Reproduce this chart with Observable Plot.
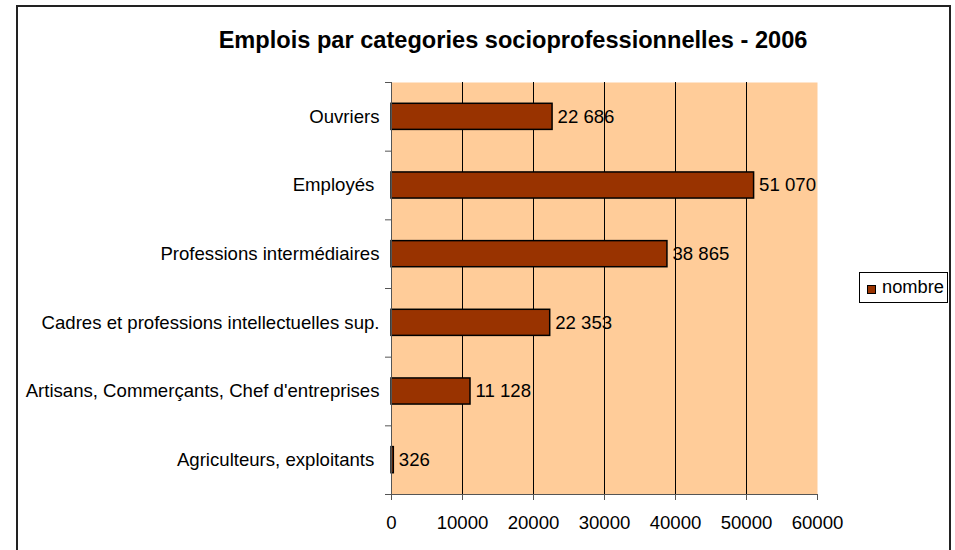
<!DOCTYPE html>
<html><head><meta charset="utf-8">
<script src="https://cdn.jsdelivr.net/npm/d3@7"></script>
<script src="https://cdn.jsdelivr.net/npm/@observablehq/plot@0.6"></script>
<style>
body{margin:0;width:955px;height:550px;overflow:hidden;background:#fff;font-family:"Liberation Sans",Arial,sans-serif;}
#wrap{position:relative;width:955px;height:550px;}
#frame{position:absolute;left:16px;top:5px;width:935px;height:600px;border:2px solid #222;box-sizing:border-box;}
#title{position:absolute;left:0;width:1026px;top:29px;line-height:22px;font-size:23.6px;font-weight:bold;text-align:center;color:#000;white-space:nowrap;}
#chart{position:absolute;left:0;top:0;}
#legend{position:absolute;left:859px;top:272px;width:89px;height:31px;border:1px solid #000;box-sizing:border-box;background:#fff;}
#sw{position:absolute;left:7px;top:12px;width:9px;height:9px;border:1px solid #000;box-sizing:border-box;background:#993300;}
#lt{position:absolute;left:22px;top:5px;font-size:18.3px;line-height:18px;color:#000;}
svg text{white-space:pre;}
</style>
</head><body>
<div id="wrap">
  <div id="frame"></div>
  <div id="chart"></div>
  <div id="title"></div>
  <div id="legend"><span id="sw"></span><span id="lt"></span></div>
</div>
<script>
const titleText = "Emplois par categories socioprofessionnelles - 2006";
const seriesName = "nombre";
const categories = [
  "Ouvriers",
  "Employés ",
  "Professions intermédiaires",
  "Cadres et professions intellectuelles sup.",
  "Artisans, Commerçants, Chef d'entreprises",
  "Agriculteurs, exploitants "
];
const values = [22686, 51070, 38865, 22353, 11128, 326];
const valueLabels = ["22 686", "51 070", "38 865", "22 353", "11 128", "326"];
const xTicks = [0, 10000, 20000, 30000, 40000, 50000, 60000];

document.getElementById("title").textContent = titleText;
document.getElementById("lt").textContent = seriesName;

const data = categories.map((c, i) => ({cat: c, idx: i, value: values[i], label: valueLabels[i]}));
const half = 0.19;
const boundaries = categories.map((_, i) => i).concat([categories.length]);
const centers = categories.map((_, i) => i + 0.5);
const font = "'Liberation Sans', Arial, sans-serif";
const fs = 18.6;

const chart = Plot.plot({
  width: 955, height: 550,
  marginLeft: 391, marginRight: 138, marginTop: 82, marginBottom: 56,
  style: {fontFamily: font, fontSize: fs + "px", background: "transparent", color: "#000"},
  x: {domain: [xTicks[0], xTicks[xTicks.length - 1]]},
  y: {domain: [0, categories.length], reverse: true},
  marks: [
    Plot.frame({fill: "#FFCC99", stroke: "none"}),
    Plot.ruleX(xTicks.slice(1, -1), {stroke: "#000", strokeWidth: 1}),
    Plot.rectX(data, {
      x1: 0, x2: "value",
      y1: d => d.idx + 0.5 - half, y2: d => d.idx + 0.5 + half,
      fill: "#993300", stroke: "#000", strokeWidth: 1.5
    }),
    Plot.text(data, {x: "value", y: d => d.idx + 0.5, text: "label", textAnchor: "start", dx: 5, fill: "#000", fontSize: fs}),
    Plot.ruleX([0], {stroke: "#555"}),
    Plot.ruleY([categories.length], {stroke: "#555"}),
    Plot.axisY(boundaries, {tickSize: 6, tickFormat: () => "", stroke: "#555", label: null}),
    Plot.axisY(centers, {tickSize: 0, tickPadding: 12, tickFormat: t => categories[Math.floor(t)], fontSize: fs, fill: "#000", label: null}),
    Plot.axisX(xTicks, {tickSize: 6, tickPadding: 15.5, tickFormat: d => String(d), fontSize: fs, stroke: "#555", fill: "#000", label: null})
  ]
});
document.getElementById("chart").appendChild(chart);
</script>
</body></html>
